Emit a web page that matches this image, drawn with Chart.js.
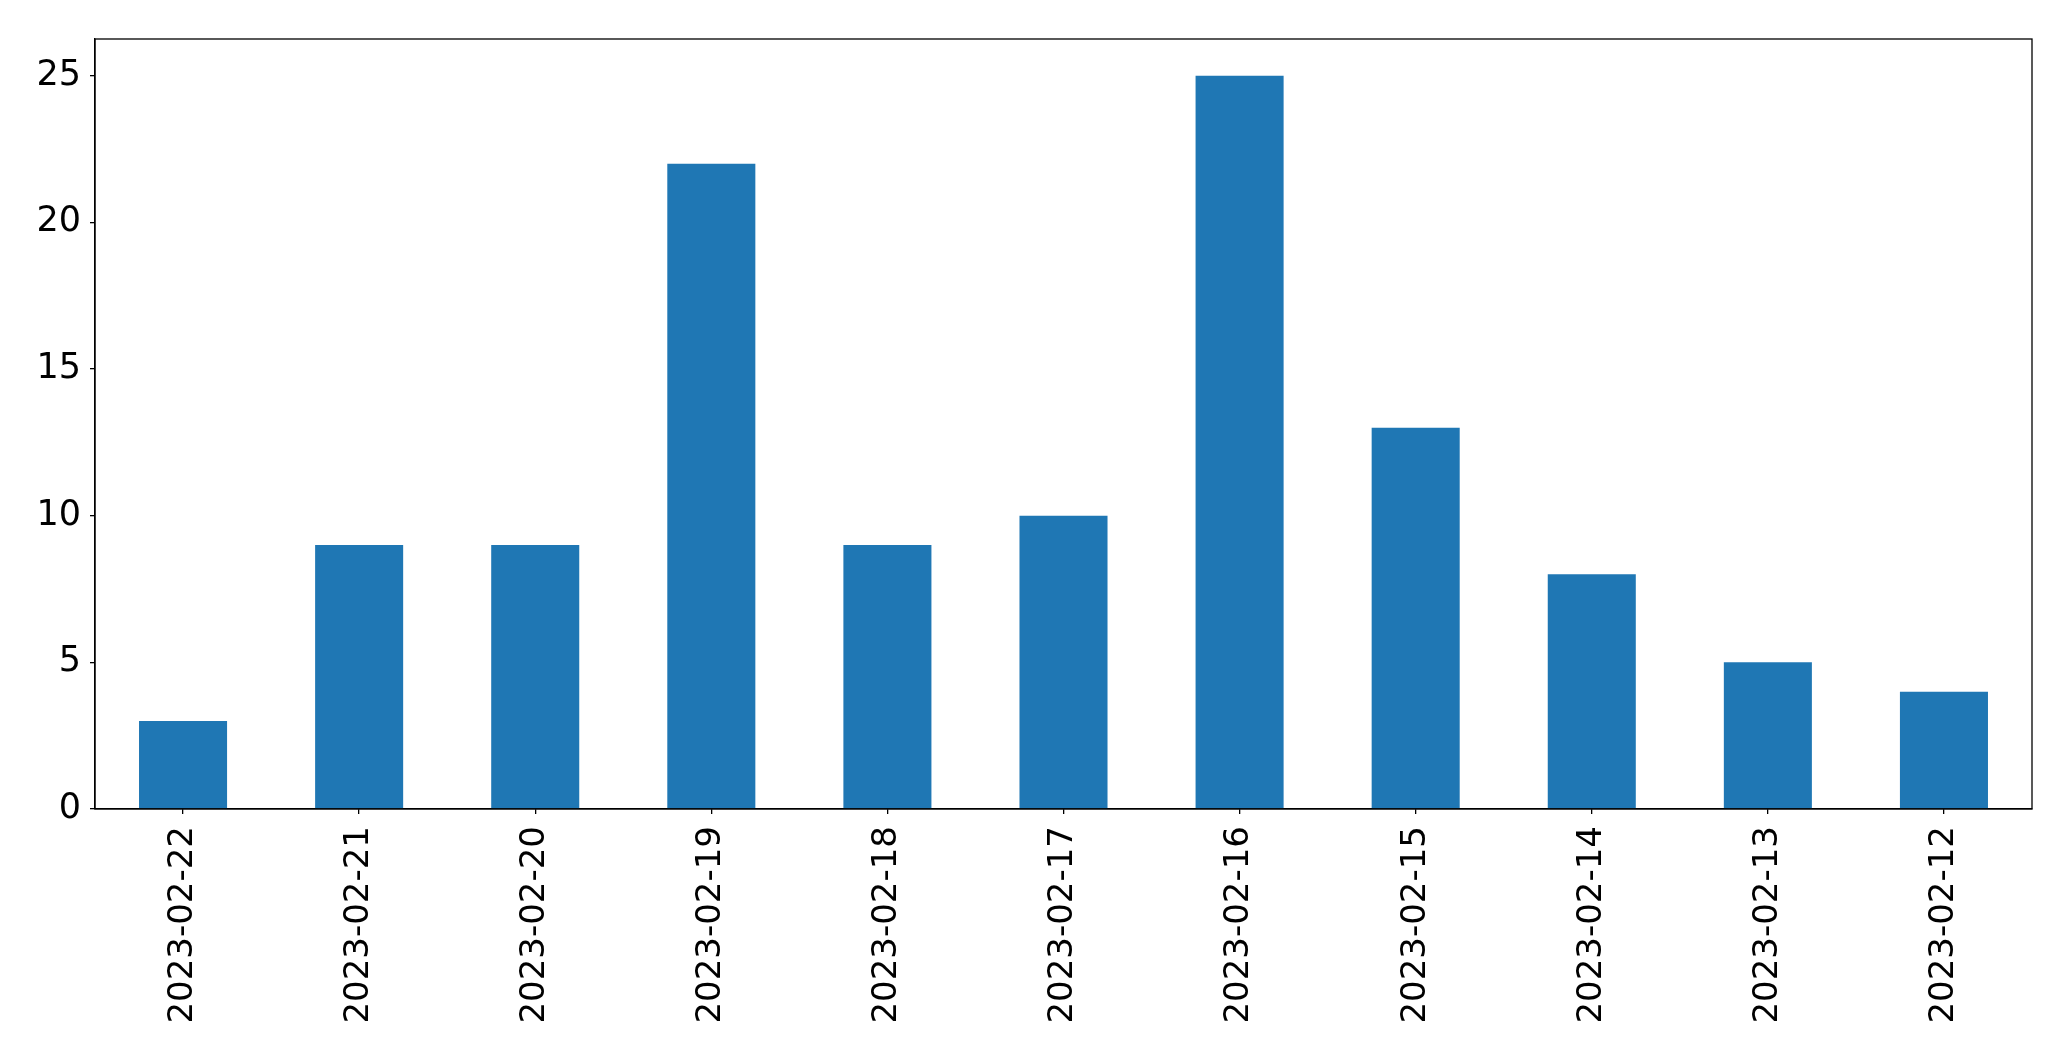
<!DOCTYPE html>
<html>
<head>
<meta charset="utf-8">
<script src="https://cdn.jsdelivr.net/npm/chart.js@4.4.0/dist/chart.umd.min.js"></script>
<style>
html,body{margin:0;padding:0;background:#fff;}
#wrap{width:2071px;height:1061px;position:relative;}
</style>
</head>
<body>
<div id="wrap"><canvas id="c" width="2071" height="1061"></canvas></div>
<script>
const categories = ["2023-02-22","2023-02-21","2023-02-20","2023-02-19","2023-02-18","2023-02-17","2023-02-16","2023-02-15","2023-02-14","2023-02-13","2023-02-12"];
const values = [3, 9, 9, 22, 9, 10, 25, 13, 8, 5, 4];
const yTicks = [0, 5, 10, 15, 20, 25];

const frame = {
  id: 'frame',
  afterDraw(chart) {
    const a = chart.chartArea, ctx = chart.ctx;
    ctx.save();
    ctx.strokeStyle = '#000';
    ctx.lineWidth = 1.3;
    ctx.strokeRect(a.left, a.top, a.right - a.left, a.bottom - a.top);
    ctx.restore();
  }
};

new Chart(document.getElementById('c'), {
  type: 'bar',
  data: {
    labels: categories,
    datasets: [{ data: values, backgroundColor: '#1f77b4', borderWidth: 0, barPercentage: 0.5, categoryPercentage: 1.0 }]
  },
  plugins: [frame],
  options: {
    responsive: false,
    animation: false,
    devicePixelRatio: 1,
    layout: { padding: { top: 39, right: 39, left: 0, bottom: 0 } },
    plugins: { legend: { display: false }, tooltip: { enabled: false } },
    scales: {
      x: {
        offset: true,
        grid: { display: true, offset: false, drawOnChartArea: false, drawTicks: true, tickLength: 5, color: '#000', lineWidth: 1.3 },
        border: { display: true, color: '#000', width: 1.3 },
        ticks: { color: '#000', font: { family: 'DejaVu Sans', size: 34 }, minRotation: 90, maxRotation: 90, padding: 12, autoSkip: false },
        afterFit(s) { s.height = 252; }
      },
      y: {
        min: 0, max: 26.25,
        afterBuildTicks(s) { s.ticks = yTicks.map(v => ({ value: v })); },
        grid: { display: true, drawOnChartArea: false, drawTicks: true, tickLength: 5, color: '#000', lineWidth: 1.3 },
        border: { display: true, color: '#000', width: 1.3 },
        ticks: { color: '#000', font: { family: 'DejaVu Sans', size: 35 }, padding: 9 },
        afterFit(s) { s.width = 95; }
      }
    }
  }
});
</script>
</body>
</html>
